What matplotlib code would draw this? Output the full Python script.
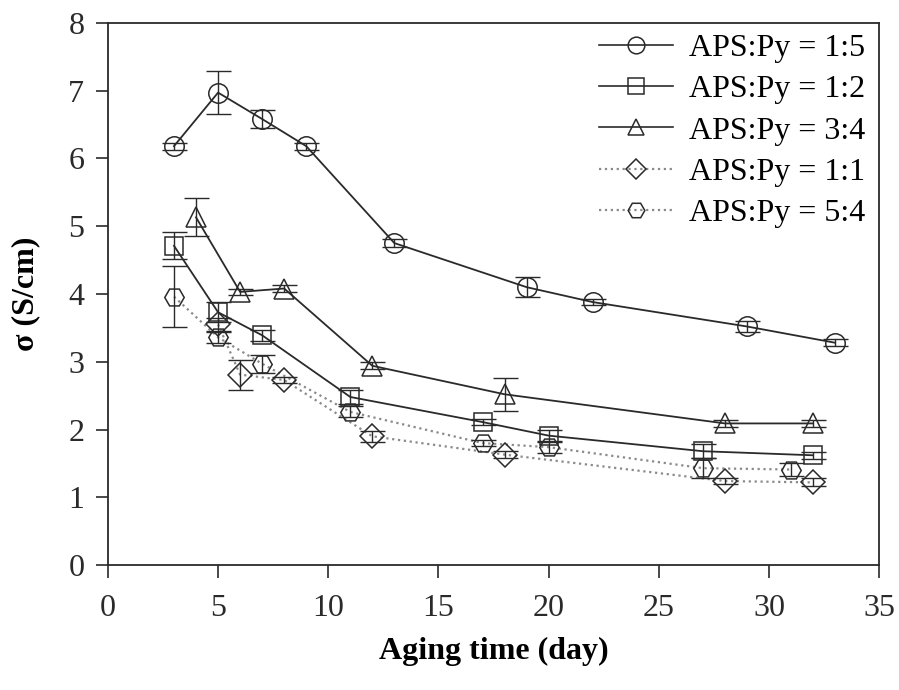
import numpy as np
import matplotlib.pyplot as plt

plt.rcParams['font.family'] = ['Liberation Serif', 'DejaVu Serif']

# conductivity vs aging time for each APS:Py ratio
x_15 = [3, 5, 7, 9, 13, 19, 22, 29, 33]
y_15 = [6.18, 6.97, 6.58, 6.18, 4.75, 4.10, 3.88, 3.52, 3.28]
e_15 = [0.05, 0.32, 0.13, 0.05, 0.06, 0.15, 0.05, 0.08, 0.05]

x_12 = [3, 5, 7, 11, 17, 20, 27, 32]
y_12 = [4.71, 3.73, 3.39, 2.48, 2.11, 1.91, 1.68, 1.62]
e_12 = [0.20, 0.15, 0.08, 0.10, 0.05, 0.08, 0.10, 0.05]

x_34 = [4, 6, 8, 12, 18, 28, 32]
y_34 = [5.13, 4.03, 4.08, 2.94, 2.52, 2.09, 2.09]
e_34 = [0.28, 0.05, 0.05, 0.05, 0.24, 0.05, 0.05]

x_11 = [5, 6, 8, 12, 18, 28, 32]
y_11 = [3.55, 2.81, 2.73, 1.90, 1.63, 1.24, 1.22]
e_11 = [0.10, 0.22, 0.05, 0.08, 0.05, 0.05, 0.06]

x_54 = [3, 5, 7, 11, 17, 20, 27, 31]
y_54 = [3.96, 3.36, 2.97, 2.26, 1.80, 1.74, 1.43, 1.41]
e_54 = [0.45, 0.08, 0.13, 0.08, 0.05, 0.08, 0.15, 0.10]

fig = plt.figure(figsize=(8.99, 6.90), dpi=100)
ax = fig.add_axes([0.120, 0.181, 0.858, 0.786])

series = [
    (x_15, y_15, e_15, 'o', '-', '#2a2a2a', 'APS:Py = 1:5'),
    (x_12, y_12, e_12, 's', '-', '#2a2a2a', 'APS:Py = 1:2'),
    (x_34, y_34, e_34, '^', '-', '#2a2a2a', 'APS:Py = 3:4'),
    (x_11, y_11, e_11, 'D', ':', '#8a8a8a', 'APS:Py = 1:1'),
    (x_54, y_54, e_54, 'H', ':', '#8a8a8a', 'APS:Py = 5:4'),
]
msize = {'o': 14, 's': 13, '^': 14, 'D': 12, 'H': 14}

handles = []
for xs, ys, es, m, ls, lc, lab in series:
    ax.errorbar(xs, ys, yerr=es, fmt='none', ecolor='#2a2a2a',
                elinewidth=1.0, capsize=9, capthick=1.0, zorder=3)
    ax.plot(xs, ys, linestyle=ls, color=lc, lw=1.3 if ls == '-' else 1.6,
            zorder=2)
    ax.plot(xs, ys, linestyle='none', marker=m, ms=msize[m],
            mfc='none', mec='#2a2a2a', mew=1.1, zorder=4)
    h, = ax.plot([], [], linestyle=ls, color=lc, lw=1.2 if ls == '-' else 1.6,
                 marker=m, ms=msize[m] - 2, mfc='none', mec='#2a2a2a', mew=1.1,
                 label=lab)
    handles.append(h)

ax.set_xlim(0, 35)
ax.set_ylim(0, 8)
ax.set_xticks(np.arange(0, 36, 5))
ax.set_yticks(np.arange(0, 9, 1))
ax.tick_params(direction='out', length=9, width=1.2, labelsize=23,
               colors='#2a2a2a', pad=12)
ax.tick_params(axis='y', pad=8)
for s in ax.spines.values():
    s.set_linewidth(1.3)
    s.set_color('#2a2a2a')

ax.set_xlabel('Aging time (day)', fontsize=23, fontweight='bold', labelpad=10)
ax.set_ylabel('σ (S/cm)', fontsize=23, fontweight='bold', labelpad=20)

ax.legend(handles=handles, loc='upper right', bbox_to_anchor=(0.998, 1.003),
          frameon=False, fontsize=23, handlelength=2.3, handletextpad=0.5,
          labelspacing=0.37, borderaxespad=0.0, numpoints=1)

fig.savefig('out.png', dpi=100)
